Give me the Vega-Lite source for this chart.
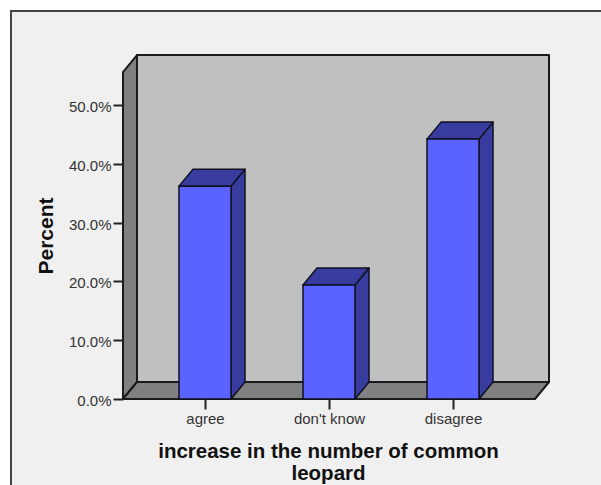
{
  "$schema": "https://vega.github.io/schema/vega-lite/v6.json",
  "width": 601,
  "height": 485,
  "padding": 0,
  "autosize": {"type": "none"},
  "background": "#ffffff",
  "view": {"stroke": null, "fill": null},
  "datasets": {
    "responses": [
      {"category": "agree", "percent": 36.2},
      {"category": "don't know", "percent": 19.4},
      {"category": "disagree", "percent": 44.2}
    ],
    "panel": [{"vx": -0.5645, "vx2": 4.25, "vy": 65.99, "vy2": -15.5}],
    "shell": [
      {"part": "left wall", "seq": 0, "vx": 0.3387, "vy": 0},
      {"part": "left wall", "seq": 1, "vx": 0.4516, "vy": 2.89},
      {"part": "left wall", "seq": 2, "vx": 0.4516, "vy": 58.5},
      {"part": "left wall", "seq": 3, "vx": 0.3387, "vy": 55.6},
      {"part": "back wall", "seq": 0, "vx": 0.4516, "vy": 2.89},
      {"part": "back wall", "seq": 1, "vx": 3.7742, "vy": 2.89},
      {"part": "back wall", "seq": 2, "vx": 3.7742, "vy": 58.5},
      {"part": "back wall", "seq": 3, "vx": 0.4516, "vy": 58.5},
      {"part": "floor", "seq": 0, "vx": 0.3387, "vy": 0},
      {"part": "floor", "seq": 1, "vx": 3.6613, "vy": 0},
      {"part": "floor", "seq": 2, "vx": 3.7742, "vy": 2.89},
      {"part": "floor", "seq": 3, "vx": 0.4516, "vy": 2.89}
    ]
  },
  "encoding": {
    "x": {
      "field": "vx", "type": "quantitative",
      "scale": {"domain": [-0.6532, 4.1935], "nice": false, "zero": false},
      "axis": {
        "orient": "bottom", "offset": -86, "values": [1, 2, 3], "zindex": 1,
        "labelExpr": "['agree', \"don't know\", 'disagree'][datum.value - 1]",
        "domain": false, "grid": false, "tickSize": 10, "tickWidth": 2, "tickColor": "#222222",
        "labelFont": "Liberation Sans", "labelFontSize": 15, "labelColor": "#333333", "labelPadding": 2,
        "title": ["increase in the number of common", "leopard"],
        "titleFont": "Liberation Sans", "titleFontSize": 20.5, "titleFontWeight": "bold", "titleColor": "#111111",
        "titleLineHeight": 22, "titleX": 328, "titleY": 58, "titleAlign": "center", "titleBaseline": "alphabetic"
      }
    },
    "y": {
      "field": "vy", "type": "quantitative",
      "scale": {"domain": [-14.626, 67.857], "nice": false, "zero": false},
      "axis": {
        "orient": "left", "offset": -123, "values": [0, 10, 20, 30, 40, 50], "zindex": 1,
        "labelExpr": "format(datum.value, '.1f') + '%'",
        "domain": false, "grid": false, "tickSize": 10, "tickWidth": 2, "tickColor": "#222222",
        "labelFont": "Liberation Sans", "labelFontSize": 15, "labelColor": "#333333", "labelPadding": 2, "labelOffset": 1.5,
        "title": "Percent", "titleFont": "Liberation Sans", "titleFontSize": 21, "titleFontWeight": "bold",
        "titleColor": "#111111", "titleX": -71, "titleY": 235.5, "titleAngle": -90, "titleAlign": "center", "titleBaseline": "alphabetic"
      }
    }
  },
  "layer": [
    {
      "description": "Chart panel with its dark frame",
      "data": {"name": "panel"},
      "mark": {"type": "rect", "fill": "#f0f0f0", "stroke": "#444444", "strokeWidth": 2},
      "encoding": {
        "x2": {"field": "vx2"},
        "y2": {"field": "vy2"}
      }
    },
    {
      "description": "Left wall, back wall and floor of the box",
      "data": {"name": "shell"},
      "mark": {"type": "line", "interpolate": "linear-closed", "stroke": "#1a1a1a", "strokeWidth": 2, "strokeJoin": "round"},
      "encoding": {
        "order": {"field": "seq"},
        "fill": {
          "field": "part", "type": "nominal",
          "scale": {"domain": ["left wall", "back wall", "floor"], "range": ["#808080", "#c0c0c0", "#808080"]},
          "legend": null
        }
      }
    },
    {
      "description": "Right side of each bar",
      "data": {"name": "responses"},
      "transform": [
        {"calculate": "indexof(['agree', \"don't know\", 'disagree'], datum.category) + 1", "as": "slot"},
        {"calculate": "[0, 1, 2, 3]", "as": "seq"},
        {"flatten": ["seq"]},
        {"calculate": "datum.slot + 0.2097 + (datum.seq == 1 || datum.seq == 2 ? 0.1129 : 0)", "as": "vx"},
        {"calculate": "(datum.seq < 2 ? 0 : datum.percent) + (datum.seq == 1 || datum.seq == 2 ? 2.89 : 0)", "as": "vy"}
      ],
      "mark": {"type": "line", "interpolate": "linear-closed", "fill": "#393c9f", "stroke": "#111122", "strokeWidth": 1.5, "strokeJoin": "round"},
      "encoding": {
        "detail": {"field": "category"},
        "order": {"field": "seq"}
      }
    },
    {
      "description": "Top of each bar",
      "data": {"name": "responses"},
      "transform": [
        {"calculate": "indexof(['agree', \"don't know\", 'disagree'], datum.category) + 1", "as": "slot"},
        {"calculate": "[0, 1, 2, 3]", "as": "seq"},
        {"flatten": ["seq"]},
        {"calculate": "datum.slot + (datum.seq == 0 || datum.seq == 3 ? -0.2097 : 0.2097) + (datum.seq >= 2 ? 0.1129 : 0)", "as": "vx"},
        {"calculate": "datum.percent + (datum.seq >= 2 ? 2.89 : 0)", "as": "vy"}
      ],
      "mark": {"type": "line", "interpolate": "linear-closed", "fill": "#393c9f", "stroke": "#111122", "strokeWidth": 1.5, "strokeJoin": "round"},
      "encoding": {
        "detail": {"field": "category"},
        "order": {"field": "seq"}
      }
    },
    {
      "description": "Front face of each bar, from zero to its percent",
      "data": {"name": "responses"},
      "transform": [
        {"calculate": "indexof(['agree', \"don't know\", 'disagree'], datum.category) + 1", "as": "slot"},
        {"calculate": "datum.slot - 0.2097", "as": "vx"},
        {"calculate": "datum.slot + 0.2097", "as": "vx2"},
        {"calculate": "datum.percent", "as": "vy"},
        {"calculate": "0", "as": "vy2"}
      ],
      "mark": {"type": "rect", "fill": "#5a62ff", "stroke": "#111122", "strokeWidth": 1.5},
      "encoding": {
        "x2": {"field": "vx2"},
        "y2": {"field": "vy2"}
      }
    }
  ]
}
